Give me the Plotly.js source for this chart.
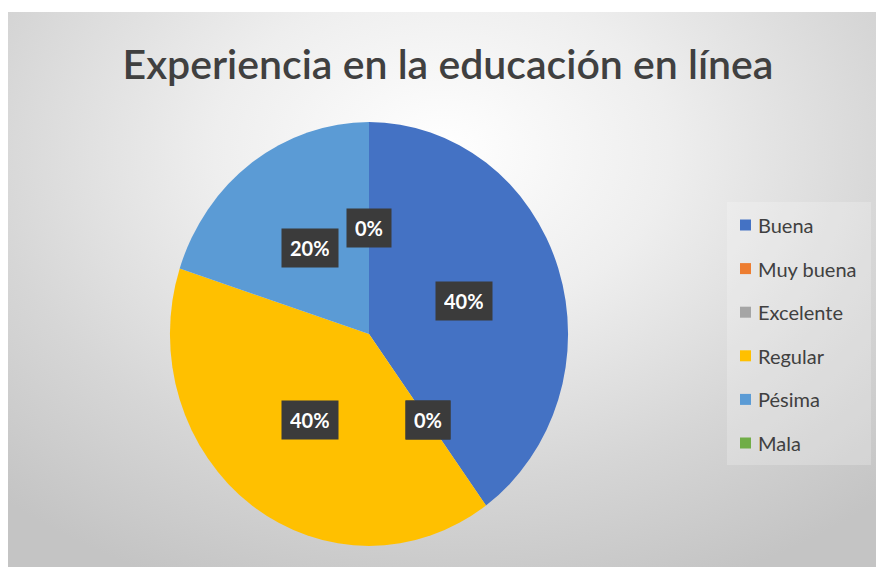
<!DOCTYPE html>
<html>
<head>
<meta charset="utf-8">
<script src="https://cdn.plot.ly/plotly-3.0.1.min.js"></script>
<style>
  html, body { margin: 0; padding: 0; background: #ffffff; }
  #wrap { position: relative; width: 876px; height: 567px; overflow: hidden; }
  #bg { position: absolute; left: 8px; top: 12px; right: 0; bottom: 0;
        background: radial-gradient(ellipse 75% 85% at 50% 25%, #ffffff 0%, #eeeeee 35%, #d6d6d6 70%, #c4c4c4 100%); }
  #chart { position: absolute; left: 0; top: 0; width: 876px; height: 567px; }
  /* the reference pie is slightly taller than wide */
  #chart .pielayer { transform-origin: 369px 334px; transform: scale(0.971, 1.034); }
</style>
</head>
<body>
<div id="wrap">
  <div id="bg"></div>
  <div id="chart"></div>
</div>
<script>
const chartTitle = "Experiencia en la educación en línea";
const categories = ["Buena", "Muy buena", "Excelente", "Regular", "Pésima", "Mala"];
const values = [40, 0, 0, 40, 20, 0];
const colors = ["#4472C4", "#ED7D31", "#A5A5A5", "#FFC000", "#5B9BD5", "#70AD47"];

const W = 876, H = 567;
const cx = 369, cy = 334, R = 205;   // pie center and radius in pixels

const total = values.reduce((a, b) => a + b, 0);

// data labels placed at mid-angle of each slice, halfway out
const annotations = [];
let acc = 0;
values.forEach((v, i) => {
  const a0 = acc / total * 2 * Math.PI;
  acc += v;
  const a1 = acc / total * 2 * Math.PI;
  const mid = (a0 + a1) / 2;
  const px = cx + 0.5 * R * 0.971 * Math.sin(mid);
  const py = cy - 0.5 * R * 1.034 * Math.cos(mid);
  annotations.push({
    x: px / W, y: 1 - py / H, xref: "paper", yref: "paper",
    text: "<b>" + Math.round(v / total * 100) + "%</b>",
    showarrow: false, xanchor: "center", yanchor: "middle",
    font: { family: "Lato, 'Noto Sans', sans-serif", size: 20, color: "#ffffff" },
    bgcolor: "#3b3b3b", borderpad: 8, height: 22
  });
});

// legend (custom, from categories & colors)
const shapes = [{
  type: "rect", xref: "paper", yref: "paper",
  x0: 727 / W, x1: 871 / W, y0: 1 - 465 / H, y1: 1 - 202 / H,
  fillcolor: "rgba(255,255,255,0.22)", line: { width: 0 }, layer: "below"
}];
const legTop = 225, legStep = 43.6;
categories.forEach((c, i) => {
  const yc = legTop + i * legStep;
  shapes.push({
    type: "rect", xref: "paper", yref: "paper",
    x0: 740 / W, x1: 751 / W, y0: 1 - (yc + 5.5) / H, y1: 1 - (yc - 5.5) / H,
    fillcolor: colors[i], line: { width: 0 }
  });
  annotations.push({
    x: 756 / W, y: 1 - yc / H, xref: "paper", yref: "paper",
    text: c, showarrow: false, xanchor: "left", yanchor: "middle",
    font: { family: "Lato, 'Noto Sans', sans-serif", size: 20, color: "#404040" }
  });
});

const trace = {
  type: "pie",
  labels: categories,
  values: values,
  marker: { colors: colors, line: { width: 0 } },
  sort: false,
  direction: "clockwise",
  rotation: 0,
  textinfo: "none",
  hoverinfo: "label+percent",
  showlegend: false,
  domain: { x: [(cx - R) / W, (cx + R) / W], y: [1 - (cy + R) / H, 1 - (cy - R) / H] }
};

const layout = {
  width: W, height: H,
  margin: { l: 0, r: 0, t: 0, b: 0 },
  paper_bgcolor: "rgba(0,0,0,0)",
  plot_bgcolor: "rgba(0,0,0,0)",
  showlegend: false,
  title: {
    text: chartTitle,
    x: 448 / W, xanchor: "center", xref: "paper",
    y: 1 - 65 / H, yanchor: "middle", yref: "paper",
    font: { family: "Lato, 'Noto Sans', sans-serif", size: 41, color: "#404040", weight: 600 }
  },
  annotations: annotations,
  shapes: shapes
};

Plotly.newPlot("chart", [trace], layout, { displayModeBar: false, staticPlot: true });
</script>
</body>
</html>
